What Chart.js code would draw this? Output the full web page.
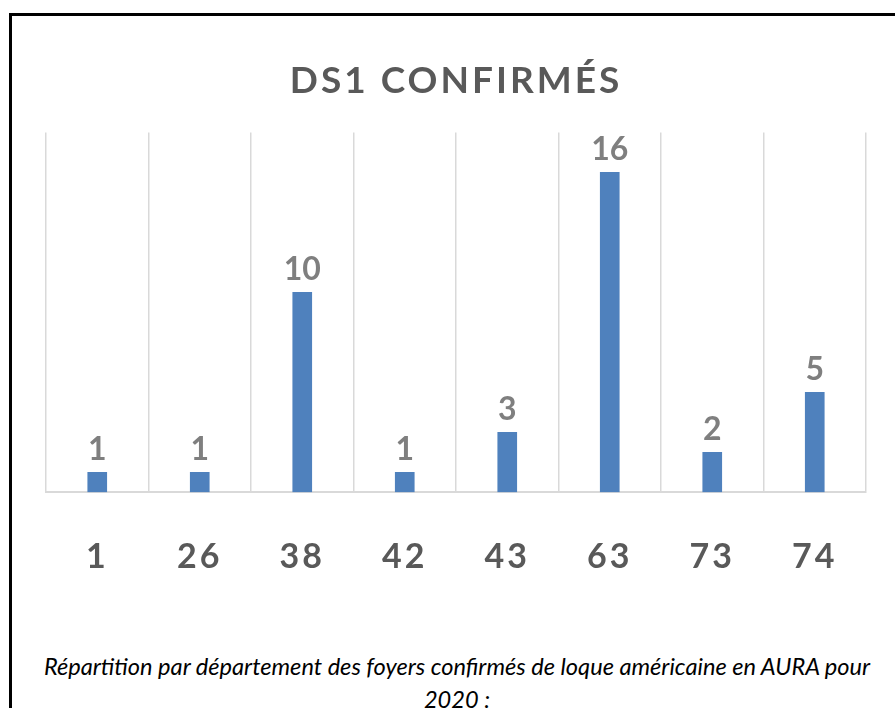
<!DOCTYPE html>
<html>

<head>
    <meta charset="UTF-8">
    <title>DS1 confirmés</title>
    <script src="https://cdn.jsdelivr.net/npm/chart.js"></script>
    <style>
        html, body { margin: 0; padding: 0; background: #fff; overflow: hidden; }
        body { width: 895px; height: 708px; position: relative; }
        #frame {
            position: absolute; left: 9px; top: 13px; width: 920px; height: 740px;
            border-top: 3px solid #000; border-left: 3px solid #000; box-sizing: border-box;
        }
        #wrap { position: absolute; left: 0; top: 0; width: 895px; height: 621px; }
        #caption {
            position: absolute; left: 12px; top: 650px; width: 890px; text-align: center;
            font-family: Lato, sans-serif; font-style: italic; font-size: 23.6px; line-height: 33px; color: #000;
        }
    </style>
</head>

<body>
    <div id="frame"></div>
    <div id="wrap"><canvas id="chart"></canvas></div>
    <div id="caption">Répartition par département des foyers confirmés de loque américaine en AURA pour<br>2020 :</div>

    <script>
        // departements + nombre de foyers confirmes
        var departements = ['1', '26', '38', '42', '43', '63', '73', '74'];
        var foyers = [1, 1, 10, 1, 3, 16, 2, 5];

        // valeurs au-dessus des barres
        var barLabels = {
            id: 'barLabels',
            afterDatasetsDraw: function (chart) {
                var ctx = chart.ctx;
                var meta = chart.getDatasetMeta(0);
                ctx.save();
                ctx.letterSpacing = '0px';
                ctx.font = 'bold 32px Lato';
                ctx.fillStyle = '#7f7f7f';
                ctx.textAlign = 'center';
                ctx.textBaseline = 'alphabetic';
                meta.data.forEach(function (bar, i) {
                    ctx.fillText(foyers[i], bar.x, bar.y - 12);
                });
                ctx.restore();
            }
        };

        // espacement des lettres pour titre et axe
        var spacing = {
            id: 'spacing',
            beforeDraw: function (chart) {
                chart.ctx.letterSpacing = '3px';
            }
        };

        var ctx = document.getElementById('chart').getContext('2d');
        var myChart = new Chart(ctx, {
            type: 'bar',
            data: {
                labels: departements,
                datasets: [{
                    label: 'DS1 confirmés',
                    data: foyers,
                    backgroundColor: '#4f81bd',
                    barThickness: 19
                }]
            },
            options: {
                responsive: true,
                maintainAspectRatio: false,
                animation: false,
                layout: {
                    padding: { top: 59, left: 46, right: 29, bottom: 0 }
                },
                plugins: {
                    legend: { display: false },
                    tooltip: { enabled: false },
                    title: {
                        display: true,
                        text: 'DS1 CONFIRMÉS',
                        color: '#595959',
                        font: { family: 'Lato', size: 37, weight: 'bold', lineHeight: 1.2 },
                        padding: { top: 0, bottom: 29 }
                    }
                },
                scales: {
                    x: {
                        grid: {
                            offset: true,
                            color: '#d9d9d9',
                            lineWidth: 1.5,
                            drawTicks: false
                        },
                        border: { display: true, color: '#d9d9d9', width: 2 },
                        ticks: {
                            color: '#595959',
                            padding: 44,
                            font: { family: 'Lato', size: 34, weight: 'bold' }
                        }
                    },
                    y: {
                        display: false,
                        min: 0,
                        max: 18
                    }
                }
            },
            plugins: [spacing, barLabels]
        });
    </script>
</body>

</html>
